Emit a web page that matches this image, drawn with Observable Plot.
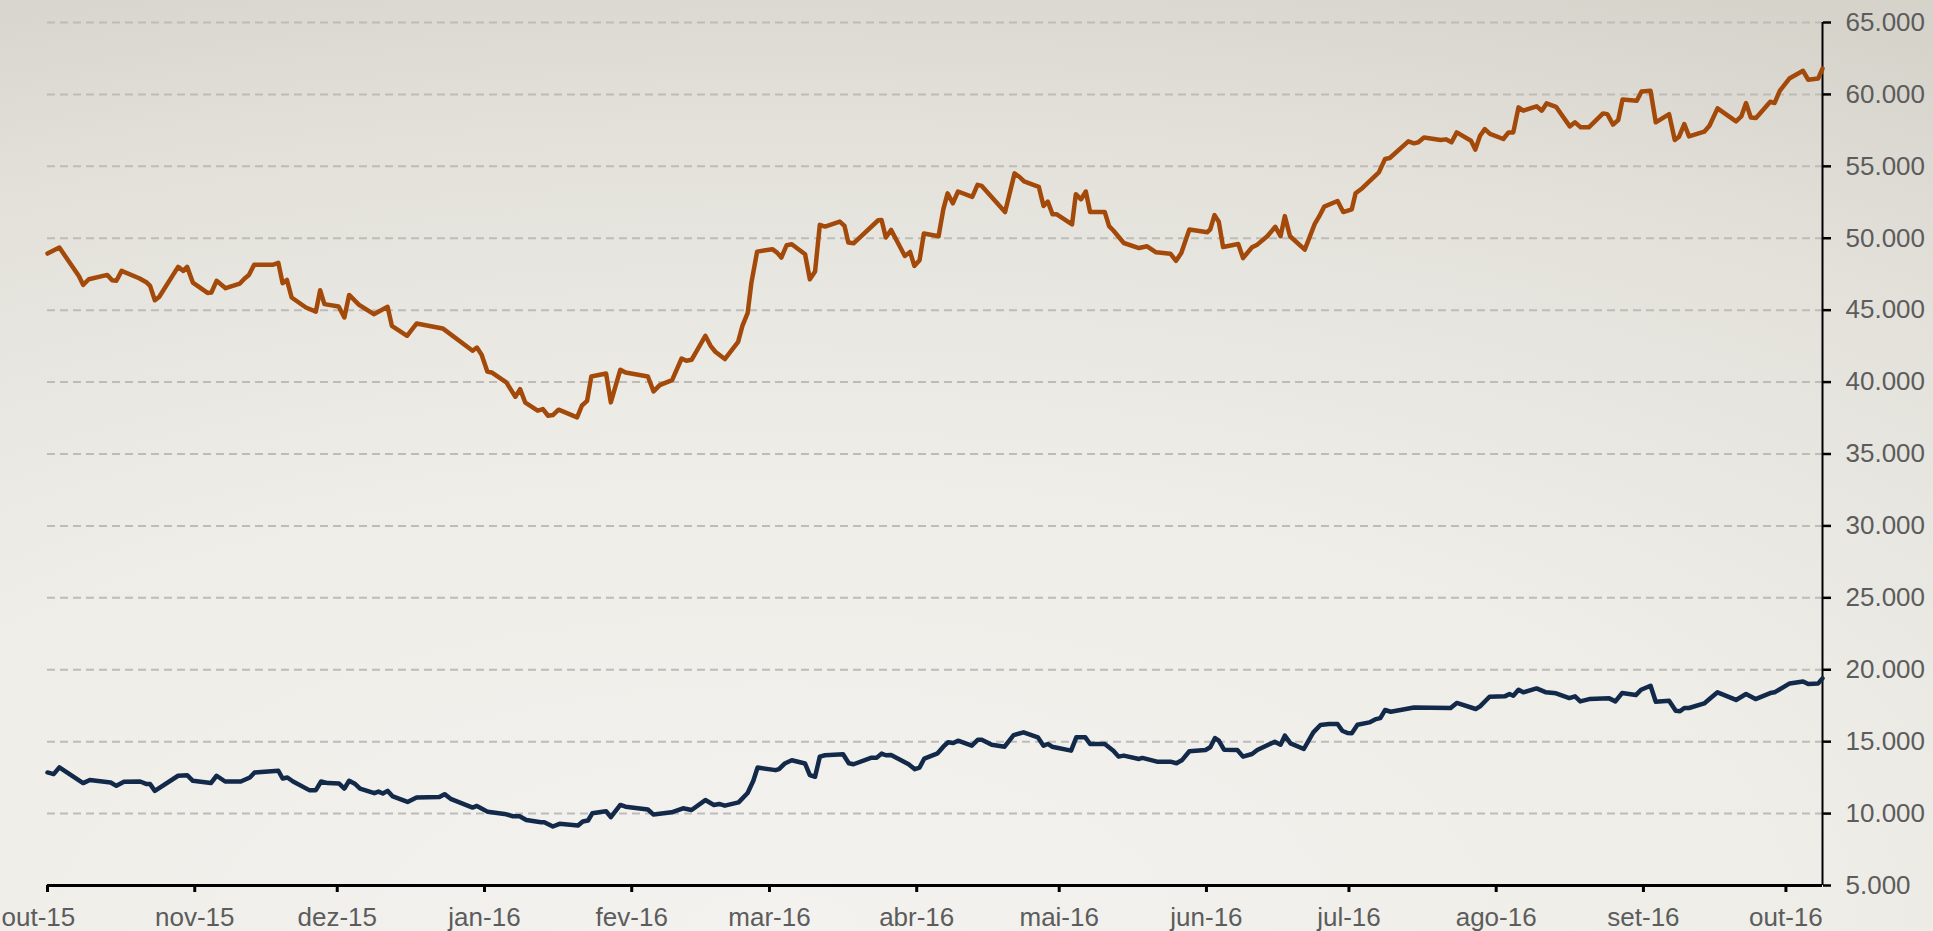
<!DOCTYPE html>
<html>
<head>
<meta charset="utf-8">
<script src="https://cdn.jsdelivr.net/npm/d3@7"></script>
<script src="https://cdn.jsdelivr.net/npm/@observablehq/plot@0.6"></script>
<style>
  html, body { margin: 0; padding: 0; }
  body {
    width: 1933px; height: 931px; overflow: hidden;
    background: radial-gradient(ellipse 120% 110% at 40% 100%, #f3f2ee 0%, #eeede8 45%, #e2e0d9 80%, #d6d3cb 100%);
  }
</style>
</head>
<body>
<div id="chart"></div>
<script>
// Series: days elapsed since 1 Oct 2015 and index level
const startDate = Date.UTC(2015, 9, 1);
const endDay = 373.7;

// Ibovespa em R$ (orange)
const brlDays = [0,2.5,6.6,7.5,8.7,12.6,13.6,14.5,15.6,19.3,20.9,21.6,22.6,23.5,27.5,28.6,29.4,30.6,33.7,34.5,35.6,37.5,40.5,41.5,42.4,43.5,47.4,48.6,49.5,50.4,51.4,54.4,56.5,57.4,58.3,61.3,62.5,63.5,65.6,68.7,71.6,72.5,75.7,76.5,77.7,83.2,83.9,89.5,90.4,91.4,92.6,93.5,96.6,98.5,99.5,100.6,103.2,104.3,105.4,106.4,107.6,111.5,112.5,113.6,114.5,117.6,118.6,120.6,121.7,126.4,127.6,128.9,131.5,133.5,134.5,135.6,138.5,139.6,140.6,142.6,145.4,146.3,147.4,148.2,149.4,152.6,153.6,154.5,155.6,156.7,159.5,160.5,161.6,162.6,163.7,166.8,167.8,168.6,169.7,174.9,175.6,176.5,177.6,180.5,181.6,182.5,183.6,184.5,187.6,188.6,189.5,190.6,191.7,194.7,195.8,196.7,201.6,203.6,204.6,205.6,208.7,209.7,210.6,211.6,212.5,215.7,216.5,217.6,218.6,219.5,222.6,223.5,224.4,226.6,229.8,231.5,233.4,236.4,237.6,238.7,240.4,244.2,244.8,245.7,246.6,247.5,250.7,251.7,253.6,254.7,256.8,258.5,259.6,260.5,261.6,264.7,266.8,267.7,268.8,271.6,272.8,274.6,275.4,276.8,280.3,281.6,282.6,286.5,287.7,288.6,289.8,293.3,294.4,295.6,296.7,299.7,300.6,301.6,302.6,303.7,306.5,307.6,308.6,309.7,310.7,313.5,314.6,315.6,317.6,320.5,321.6,322.8,324.5,327.5,328.4,329.6,330.7,331.6,334.6,335.6,337.5,338.6,341.4,342.6,343.5,344.6,345.6,348.8,349.9,351.6,355.5,356.6,357.6,358.6,359.7,362.7,363.6,364.7,366.8,369.6,370.7,372.8,373.7];
const brlValues = [48935,49350,47380,46760,47150,47450,47080,47040,47730,47220,46920,46690,45690,45920,48010,47730,48010,46920,46200,46230,47040,46530,46850,47200,47450,48150,48150,48290,46875,47100,45880,45185,44900,46390,45420,45250,44490,46060,45370,44720,45230,43910,43220,43560,44070,43730,43560,42175,42400,41900,40740,40670,39980,38980,39510,38565,38010,38125,37660,37710,38080,37545,38356,38700,40390,40600,38590,40860,40670,40390,39350,39790,40140,41640,41480,41550,43220,42520,42110,41600,42800,43910,44790,46920,49070,49240,49000,48660,49510,49580,48890,47150,47690,50930,50810,51160,50860,49700,49650,51250,51270,50050,50580,48770,49050,48080,48470,50325,50140,52010,53120,52430,53250,52870,53710,53640,51820,54510,54275,53950,53575,52240,52550,51660,51660,50960,53060,52710,53250,51820,51820,50840,50540,49670,49320,49440,49020,48925,48430,48970,50610,50420,50610,51610,51145,49390,49600,48620,49370,49555,50140,50795,50140,51540,50140,49210,51000,51500,52200,52590,51820,52010,53130,53480,54580,55510,55580,56740,56600,56670,57010,56830,56875,56670,57360,56780,56160,57130,57590,57250,56900,57360,57360,59100,58870,59170,58870,59375,59140,57780,58060,57710,57710,58680,58630,57900,58220,59650,59560,60210,60250,58060,58630,56830,57060,57940,57080,57410,57820,59030,58125,58470,59400,58400,58360,59490,59400,60250,61130,61640,61020,61110,61800];

// Ibovespa em US$ (navy)
const usdDays = [0,1.3,2.5,7.5,8.9,13.3,14.5,16.1,19.5,20.9,21.6,22.6,27.5,29.4,30.6,34.4,35.6,37.4,40.7,42.6,43.6,48.6,49.5,50.5,51.7,55.1,56.5,57.6,59.0,61.4,62.5,63.5,64.8,65.8,68.8,69.7,70.6,71.6,72.7,75.8,77.7,82.5,83.6,85.0,89.5,90.4,92.7,96.2,98.0,99.4,100.8,103.9,104.6,106.4,107.8,111.7,112.7,113.8,114.7,117.6,118.6,120.6,121.7,126.4,127.6,131.4,133.8,135.6,138.5,140.3,141.4,142.6,145.5,147.4,148.6,149.5,153.3,154.0,155.2,156.7,159.5,160.5,161.6,162.6,163.7,167.5,168.7,169.7,173.5,174.6,175.6,176.5,177.6,181.3,182.6,183.6,184.6,187.4,188.6,189.6,190.7,191.7,194.6,195.9,196.7,198.8,201.5,203.4,205.5,208.5,209.7,210.6,211.5,215.5,216.6,218.5,219.5,222.6,224.4,225.5,226.6,229.8,230.5,233.6,236.4,237.7,238.9,240.4,243.8,244.8,245.8,246.6,247.7,250.5,251.7,253.6,254.7,258.4,259.6,260.5,261.7,264.5,266.5,268.0,269.8,271.6,272.6,273.7,274.6,275.8,278.3,279.7,280.6,281.6,282.8,286.0,287.7,295.4,296.7,300.7,301.6,303.6,306.8,307.8,308.6,309.7,310.7,313.5,315.5,317.6,320.4,321.6,322.7,324.6,328.8,330.1,331.5,334.4,335.5,337.5,338.6,341.4,342.8,343.7,344.6,345.6,348.8,349.9,351.6,355.5,357.6,359.6,362.7,363.6,366.8,369.6,370.7,372.8,373.7];
const usdValues = [12860,12740,13210,12120,12330,12160,11930,12210,12230,12050,12050,11580,12630,12670,12280,12120,12630,12230,12230,12510,12860,12980,12440,12510,12230,11630,11630,12230,12120,12090,11740,12280,12050,11740,11420,11530,11400,11580,11190,10810,11120,11160,11350,11000,10420,10530,10120,9977,9816,9816,9560,9400,9400,9100,9290,9170,9450,9520,10020,10160,9750,10600,10480,10280,9930,10090,10370,10250,10940,10600,10670,10550,10780,11430,12280,13200,13020,13090,13480,13710,13480,12670,12560,13960,14055,14120,13500,13430,13890,13890,14170,14055,14080,13430,13090,13200,13825,14190,14650,14960,14910,15070,14720,15140,15140,14790,14650,15460,15650,15300,14720,14840,14650,14375,15300,15300,14840,14840,14375,13960,14030,13800,13870,13610,13610,13500,13730,14330,14420,14610,15250,15070,14440,14420,13960,14140,14420,15000,14790,15420,14880,14490,15650,16160,16230,16230,15760,15600,15580,16180,16340,16570,16640,17200,17080,17270,17380,17340,17690,17270,17450,18125,18150,18310,18190,18610,18430,18700,18430,18360,18030,18150,17800,17960,18010,17800,18380,18240,18610,18890,17780,17850,17150,17110,17340,17340,17660,17960,18430,17900,18310,17960,18380,18430,19050,19190,19005,19050,19400];

// Axis ticks
const monthDates = [[2015,9],[2015,10],[2015,11],[2016,0],[2016,1],[2016,2],[2016,3],[2016,4],[2016,5],[2016,6],[2016,7],[2016,8],[2016,9]];
const monthLabels = ["out-15","nov-15","dez-15","jan-16","fev-16","mar-16","abr-16","mai-16","jun-16","jul-16","ago-16","set-16","out-16"];
const yTicks = [5000,10000,15000,20000,25000,30000,35000,40000,45000,50000,55000,60000,65000];

const toDate = d => new Date(startDate + d * 864e5);
const brl = brlDays.map((d, i) => ({date: toDate(d), value: brlValues[i]}));
const usd = usdDays.map((d, i) => ({date: toDate(d), value: usdValues[i]}));
const xTicks = monthDates.map(([y, m]) => new Date(Date.UTC(y, m, 1)));
const labelByTime = new Map(xTicks.map((d, i) => [+d, monthLabels[i]]));
const ptBR = d3.formatLocale({decimal: ",", thousands: ".", grouping: [3], currency: ["R$", ""]});
const fmtY = ptBR.format(",");
const endDate = toDate(endDay);
const firstLabel = [{date: xTicks[0], label: monthLabels[0]}];

const chart = Plot.plot({
  width: 1933,
  height: 931,
  marginLeft: 47,
  marginRight: 111,
  marginTop: 22,
  marginBottom: 46,
  style: {background: "transparent", fontFamily: "'Liberation Sans', Arial, sans-serif", fontSize: "26px", color: "#000", overflow: "visible"},
  x: {type: "utc", domain: [new Date(startDate), endDate], label: null},
  y: {domain: [5000, 65000], label: null},
  marks: [
    Plot.gridY(yTicks.filter(v => v > 5000), {stroke: "#bdbcb8", strokeOpacity: 1, strokeWidth: 2, strokeDasharray: "8,5"}),
    Plot.axisX({ticks: xTicks, tickFormat: d => (+d === +xTicks[0] ? "" : labelByTime.get(+d)), label: null, tickSize: 7, tickPadding: 15, stroke: "#000", strokeWidth: 3, fill: "#5c5c5c", fontSize: 26}),
    Plot.text(firstLabel, {x: "date", text: "label", frameAnchor: "bottom", lineAnchor: "top", textAnchor: "start", dx: -46, dy: 22, fill: "#5c5c5c", fontSize: 26}),
    Plot.axisY({anchor: "right", ticks: yTicks, tickFormat: v => fmtY(v), label: null, tickSize: 8, tickPadding: 15, stroke: "#000", strokeWidth: 2.5, fill: "#5c5c5c", fontSize: 26}),
    Plot.ruleY([5000], {stroke: "#000", strokeWidth: 3}),
    Plot.ruleX([endDate], {stroke: "#000", strokeWidth: 2}),
    Plot.line(brl, {x: "date", y: "value", stroke: "#a34a0b", strokeWidth: 4.5}),
    Plot.line(usd, {x: "date", y: "value", stroke: "#13294a", strokeWidth: 4.5})
  ]
});
document.getElementById("chart").appendChild(chart);
</script>
</body>
</html>
